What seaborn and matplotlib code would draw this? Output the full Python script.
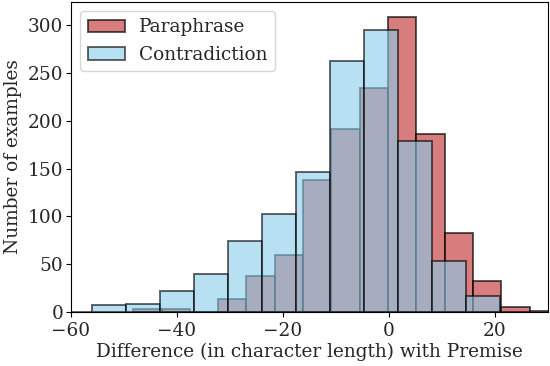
import numpy as np
import pandas as pd
import matplotlib
matplotlib.use("Agg")
import matplotlib.pyplot as plt
import seaborn as sns

# Histogram counts (15 bins per series)
para_counts = [3, 3, 0, 13, 37, 60, 138, 191, 234, 309, 186, 82, 32, 5, 1]
contra_counts = [1, 0, 0, 7, 8, 22, 40, 74, 102, 146, 263, 295, 179, 53, 17]

# bin ranges (min, max) of each series
para_range = (-48.25, 31.9)
contra_range = (-75.2, 20.95)

sns.set_style('ticks')
plt.rcParams['font.family'] = ['DejaVu Serif']
fs = 13.3

para_edges = np.linspace(para_range[0], para_range[1], len(para_counts) + 1)
contra_edges = np.linspace(contra_range[0], contra_range[1], len(contra_counts) + 1)

para = pd.DataFrame({'diff': (para_edges[:-1] + para_edges[1:]) / 2, 'n': para_counts})
contra = pd.DataFrame({'diff': (contra_edges[:-1] + contra_edges[1:]) / 2, 'n': contra_counts})

fig, ax = plt.subplots(figsize=(5.5, 3.66), dpi=100)

sns.histplot(data=para, x='diff', weights='n', bins=para_edges.tolist(), color='indianred',
             alpha=0.8, edgecolor=(0, 0, 0, 0.65), linewidth=1.4, label='Paraphrase', ax=ax)
sns.histplot(data=contra, x='diff', weights='n', bins=contra_edges.tolist(), color='skyblue',
             alpha=0.6, edgecolor=(0, 0, 0, 0.6), linewidth=1.4, label='Contradiction', ax=ax)

ax.set_xlim(-60, 30)
ax.set_xticks([-60, -40, -20, 0, 20])
ax.set_yticks([0, 50, 100, 150, 200, 250, 300])
ax.set_xlabel('Difference (in character length) with Premise', fontsize=fs, labelpad=2)
ax.set_ylabel('Number of examples', fontsize=fs)
ax.tick_params(labelsize=fs, color='black')
ax.tick_params(axis='x', pad=4)
ax.tick_params(axis='y', pad=2)
for s in ax.spines.values():
    s.set_color('black')
ax.legend(loc='upper left', fontsize=fs)

fig.subplots_adjust(left=0.129, right=0.996, top=0.995, bottom=0.148)
fig.savefig('out.png', dpi=100)
